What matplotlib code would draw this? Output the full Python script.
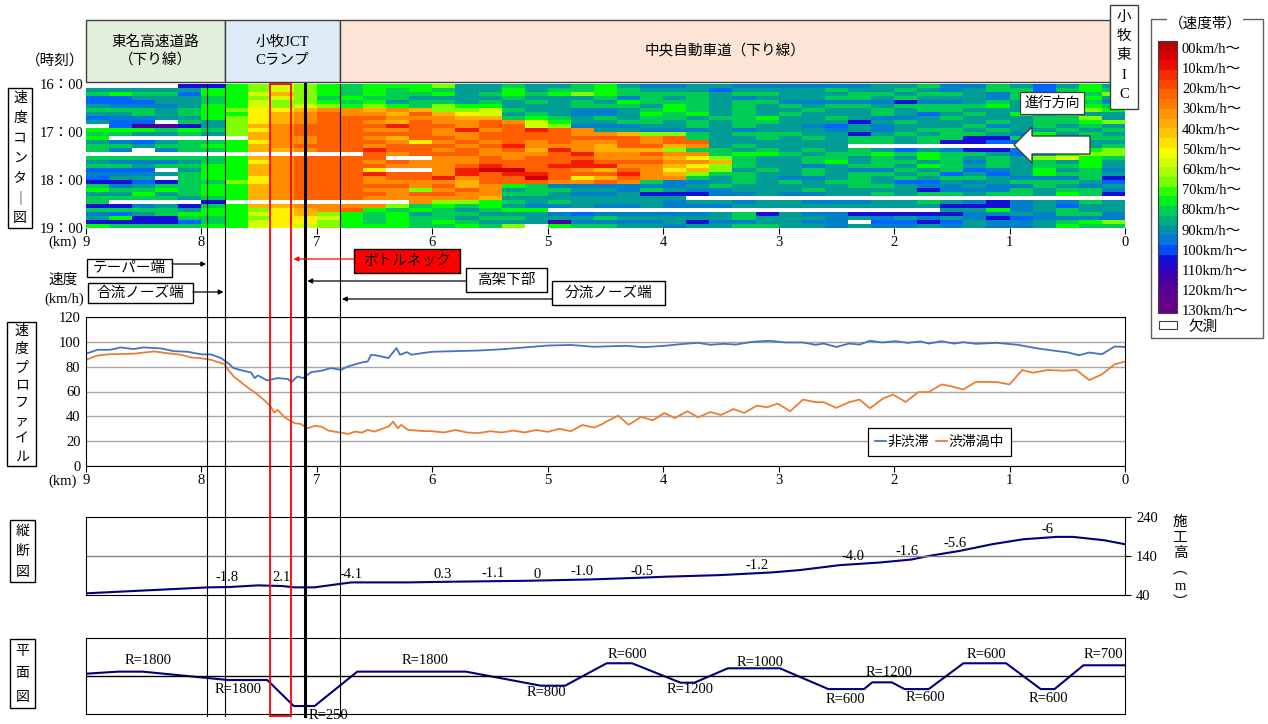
import numpy as np
import matplotlib.pyplot as plt
from matplotlib.colors import LinearSegmentedColormap, Normalize
from matplotlib.patches import Rectangle, Polygon

plt.rcParams['font.family'] = ['Noto Sans CJK JP', 'DejaVu Sans']
SERIF = ['Liberation Serif', 'Noto Sans CJK JP']

# ---------------- data ----------------
km_ticks = [9, 8, 7, 6, 5, 4, 3, 2, 1, 0]
time_ticks = [16, 17, 18, 19]
time_labels = ['16：00', '17：00', '18：00', '19：00']

band_labels = ['00km/h〜', '10km/h〜', '20km/h〜', '30km/h〜', '40km/h〜', '50km/h〜', '60km/h〜',
               '70km/h〜', '80km/h〜', '90km/h〜', '100km/h〜', '110km/h〜', '120km/h〜', '130km/h〜']
cbar_speeds = [0, 10, 20, 30, 40, 50, 57, 65, 72, 80, 88, 95, 101, 106, 112, 120, 130, 140]
cbar_colors = ['#B00000', '#E80000', '#FF3800', '#FF7000', '#FFA000', '#FFD000', '#FFFF00', '#C0FF00',
               '#80FF00', '#00FF00', '#00CC55', '#009C96', '#0080C8', '#0064FF', '#1010DD', '#3A00B0',
               '#5C0090', '#6A0080']

# speed (km/h) for each cell code, '.' = missing
code_speed = {'R': 5, 'r': 15, 'o': 27, 'O': 36, 'y': 44, 'Y': 55, 'l': 63, 'L': 72, 'g': 80,
              'G': 88, 't': 95, 'b': 101, 'B': 106, 'n': 113, 'p': 125, '.': np.nan}

# 5-min rows 16:00-19:00, 0.2 km columns from 9 km to 0 km
contour_rows = [
    "....nn|g|LlLgGgggLtt|GttGgtbbttbb|bbbbttGbbGtBtgt",
    "tttttg|g|LlLgGgGgGtt|gtGGgGtttBtt|ttGttGtbtGGBGgG",
    "GgGGBg|g|lyLgGgGGgtG|gGgLgGGGGtGG|tttGGtGGtbGgtGL",
    "BBtttG|g|LlLGgGGtttt|GtttGbGtGtbt|ttGGtGtttbGbtgt",
    "BBBttG|g|lLLgGgtGGtG|tGtGtgGGGtGG|bbbbbnbbtGttGGb",
    "tbbbtg|g|lLlLgLgGLgg|tttGGGtgGtGt|GtGGtGGGGgtGGgG",
    "GGGtGg|L|YYyOOyOyLLl|GttbbtGgGtGt|tGttGtGGtttGtLg",
    "ttGtGg|g|YyOoOOyoyYl|tGtbbtgGgtGt|GtttGtBtGtgtGtt",
    "Bbbttg|L|YyOoooOOOyy|GgGtGtGGtGGg|ttGtbbtGtttGGLt",
    "tBB.Gt|L|YyOooOyoOOo|OlgttGGtGtGG|tttntGtttGtGGgL",
    ".Bppnt|L|yOoooorooOo|olLbbbttGtGt|tbBtbtttGbtGtGt",
    "gggGgG|L|YOoooOOoOrO|oroOttbbbtbt|ttbtbtGGtGttGtG",
    "GGttGt|L|yOooooooOOo|oooOOyLLGtGG|GttntGtGGtbgtGt",
    "g.....|.|yOOooOyooOo|ooooooOoGttG|tGtGGtGGnnGgtGG",
    "tbBtGG|g|YOOoooOYOoO|oOoOOoOoottt|tttGGtGnnBBtGtt",
    "GGtGGg|g|yOoooOoooOo|rOOOyooyOtGt|ttt........gLtG",
    "Gb.bGG|g|yyOoorooOoO|oyrOyyyLGGtG|tGtGtBtbnnbtGgL",
    "......|.|.....oOoooO|OOorOOoOOGgg|GtGGgGgGGtBtgLL",
    "GGGGGG|g|yOoooo..OOo|OoooOOOyYLGt|tGGtGtgGtGtLlgG",
    "tbbbtG|g|YOoooOoOOOo|oooroooOOyGt|tGgtGGtGbGtGtgt",
    "GGtGGg|g|yOooooOOOor|oorrrOOyYLGt|tbtGGtgGtGtGGgt",
    "BBB.tg|g|yOoooY..OrR|RooOyoOYyLtG|tGtbbGtGBbtgtGb",
    "bbbtGg|g|yOooorooOro|rrooorOyLGGt|tGtGGtGBtBtgGGt",
    "Btt.Gg|g|YOoooOoorOo|oRoYyoOOGtGt|bbtGtGtGGtbbbGn",
    "nnBnGG|L|YOoooOOOOyo|ooOOoOGbbtGt|GtGGtBBtbtGGGtB",
    "GbtGGg|g|yOoooooOoyO|gGbbbbbbtGtt|tttGGtbbtbbGtbt",
    "gGGgGg|g|yOoooOOLOoO|tGGttbGtbbtt|tGttttnbbbGtGGb",
    "ttgtGg|g|yOooooOooOO|GGtbbtnnnbbt|bbttGtGGtGGtgGn",
    "GGGGtG|g|yOoooOOOOOy|tttttttt....|...............",
    "G....n|.|.......OLLg|GtGttttbttbt|tbbbttGtbnbtbGt",
    "nnbtnG|g|yyOOOOLGgGg|tbbtbbtbbbtt|tttttttnnnbtBtt",
    "GGGGtg|g|LYyOogGgGtG|gg..........|.......ttgbtGtt",
    "bBtGgg|g|lYyLgGgtGGt|ttbBbbbbbtGn|tbbnnnnnbbtbGGb",
    "tgnnGG|g|LYYlgGgGGtG|GtttGtttttGt|ttbtbtbtbnBbbbb",
    "nnnnBG|g|lYYLgGgGgGt|ttpbbbbtnbbt|tbb.BBnBtbbtGgL",
    "gGGGGg|g|lYlLgggGGgG|L.gGGttbttGG|ttbtbbtbtbbtgGG",
]

# speed profile
free_km = [9.0, 8.90, 8.79, 8.70, 8.59, 8.50, 8.35, 8.24, 8.12, 8.0,
           7.92, 7.83, 7.77, 7.72, 7.66, 7.57, 7.54, 7.51, 7.43, 7.34,
           7.25, 7.22, 7.17, 7.12, 7.05, 6.96, 6.88, 6.79, 6.73, 6.61,
           6.56, 6.53, 6.47, 6.38, 6.31, 6.28, 6.22, 6.18, 6.09, 6.0,
           5.8, 5.6, 5.4, 5.2, 5.0, 4.8, 4.6, 4.54, 4.32, 4.17,
           3.99, 3.85, 3.70, 3.59, 3.48, 3.37, 3.23, 3.08, 2.94, 2.79,
           2.68, 2.61, 2.50, 2.39, 2.30, 2.21, 2.10, 1.99, 1.88, 1.77,
           1.70, 1.59, 1.48, 1.40, 1.29, 1.11, 0.93, 0.75, 0.60, 0.49,
           0.40, 0.31, 0.20, 0.09, 0.0]
free_v = [90.4, 93.6, 93.6, 95.5, 94.2, 95.5, 94.7, 92.5, 92.0, 89.9,
          89.9, 86.9, 82.9, 78.8, 77.2, 75.3, 70.8, 72.9, 68.9, 70.8,
          70.0, 67.5, 72.1, 70.8, 75.6, 76.7, 78.8, 77.5, 80.2, 83.4,
          84.2, 89.6, 88.8, 86.9, 95.0, 89.6, 91.7, 89.6, 90.9, 92.0,
          92.5, 93.0, 94.0, 95.5, 97.0, 97.5, 96.0, 96.2, 96.8, 95.7,
          96.8, 98.1, 99.2, 97.6, 98.4, 97.8, 100.0, 100.8, 99.5, 99.5,
          97.6, 98.6, 95.9, 98.6, 97.8, 100.8, 99.5, 100.5, 99.2, 100.3,
          98.6, 100.5, 98.6, 99.7, 98.4, 99.2, 97.6, 94.6, 92.7, 91.4,
          89.2, 91.4, 90.0, 96.2, 95.9]
cong_km = [9.0, 8.90, 8.79, 8.59, 8.41, 8.30, 8.18, 8.09, 8.01, 7.92,
           7.80, 7.77, 7.72, 7.63, 7.57, 7.51, 7.46, 7.40, 7.37, 7.34,
           7.28, 7.22, 7.19, 7.14, 7.08, 7.02, 6.96, 6.90, 6.85, 6.79,
           6.73, 6.67, 6.61, 6.56, 6.50, 6.44, 6.38, 6.34, 6.30, 6.27,
           6.21, 6.09, 6.0, 5.9, 5.8, 5.7, 5.6, 5.5, 5.4, 5.3,
           5.2, 5.1, 5.0, 4.9, 4.8, 4.7, 4.6, 4.54, 4.49, 4.39,
           4.30, 4.19, 4.09, 3.99, 3.90, 3.79, 3.70, 3.59, 3.50, 3.39,
           3.30, 3.19, 3.10, 3.01, 2.90, 2.79, 2.68, 2.61, 2.50, 2.39,
           2.30, 2.21, 2.10, 2.01, 1.90, 1.79, 1.70, 1.59, 1.51, 1.40,
           1.29, 1.11, 1.00, 0.89, 0.80, 0.67, 0.53, 0.42, 0.31, 0.20,
           0.09, 0.0]
cong_v = [85.6, 89.0, 90.1, 90.4, 92.3, 90.9, 89.6, 87.4, 86.9, 85.6,
          82.0, 77.5, 72.1, 65.4, 61.3, 57.3, 53.3, 47.9, 43.0, 45.2,
          39.3, 35.8, 34.4, 33.9, 30.4, 32.3, 31.7, 28.5, 27.7, 26.9,
          25.8, 27.7, 26.9, 29.1, 27.7, 29.9, 31.7, 35.8, 30.4, 33.1,
          29.1, 28.2, 28.0, 27.0, 29.0, 27.0, 26.5, 28.0, 27.0, 28.5,
          27.0, 29.0, 27.5, 30.0, 28.0, 33.0, 31.0, 33.2, 35.9, 40.5,
          33.2, 39.5, 36.8, 42.7, 38.6, 44.1, 39.2, 43.5, 41.1, 45.9,
          42.7, 48.6, 47.3, 50.3, 44.1, 53.5, 51.4, 51.4, 46.8, 51.4,
          53.5, 46.5, 54.1, 57.6, 51.6, 59.5, 59.5, 65.7, 64.3, 61.6,
          67.8, 67.6, 65.7, 77.3, 75.1, 77.3, 76.8, 77.3, 69.2, 73.8,
          81.9, 84.1]

# longitudinal section
elev_km = [9.0, 7.94, 7.76, 7.51, 7.30, 7.20, 7.02, 6.81, 6.70, 6.21, 5.85, 5.15, 4.62, 4.20, 3.99,
           3.51, 3.06, 2.82, 2.47, 2.12, 1.85, 1.71, 1.43, 1.15, 0.88, 0.59, 0.45, 0.18, 0.0]
elev_m = [44.3, 59.6, 60.4, 64.7, 63.0, 59.6, 59.6, 68.1, 72.3, 72.3, 74.0, 76.6, 80.0, 84.3, 86.8,
          91.0, 97.9, 103.8, 116.6, 123.4, 131.0, 139.6, 153.2, 170.2, 183.0, 189.0, 189.0, 180.4, 170.2]
grade_labels = ['-1.8', '2.1', '-4.1', '0.3', '-1.1', '0', '-1.0', '-0.5', '-1.2', '-4.0', '-1.6', '-5.6', '-6']
grade_km = [7.78, 7.31, 6.70, 5.91, 5.47, 5.09, 4.70, 4.18, 3.19, 2.36, 1.89, 1.47, 0.67]
grade_m = [83.6, 83.6, 91.3, 93.8, 96.4, 93.8, 99.0, 101.5, 116.9, 140.0, 152.8, 170.8, 206.7]

# plan view
plan_km = [9.0, 8.72, 8.51, 7.77, 7.43, 7.20, 7.02, 6.65, 5.71, 5.06, 4.85, 4.49, 4.27, 3.85, 3.73,
           3.44, 2.99, 2.57, 2.26, 2.19, 2.02, 1.91, 1.70, 1.40, 1.03, 0.73, 0.61, 0.36, 0.0]
plan_v = [0.06, 0.115, 0.115, -0.106, -0.106, -0.79, -0.79, 0.115, 0.115, -0.255, -0.255, 0.335, 0.335,
          -0.176, -0.176, 0.203, 0.203, -0.344, -0.344, -0.167, -0.167, -0.344, -0.344, 0.335, 0.335,
          -0.344, -0.344, 0.282, 0.282]
curve_labels = ['R=1800', 'R=1800', 'R=250', 'R=1800', 'R=800', 'R=600', 'R=1200', 'R=1000',
                'R=600', 'R=1200', 'R=600', 'R=600', 'R=600', 'R=700']
curve_km = [8.46, 7.68, 6.90, 6.06, 5.01, 4.31, 3.77, 3.16, 2.42, 2.04, 1.73, 1.20, 0.66, 0.19]
curve_v = [0.395, -0.368, -1.05, 0.395, -0.447, 0.553, -0.368, 0.368, -0.63, 0.105, -0.553, 0.553, -0.58, 0.553]

# reference lines (km)
ref_km = [7.95, 7.80, 7.10, 6.80]
ref_lw = [0.8, 0.8, 2.2, 0.8]
bneck_km = [7.41, 7.22]

# ---------------- layout helpers ----------------
W, H = 1268, 724
X0, X1 = 86, 1125


def rect(x0, y0, x1, y1):
    return [x0 / W, 1 - y1 / H, (x1 - x0) / W, (y1 - y0) / H]


def kx(km):
    return X0 + (9 - km) * (X1 - X0) / 9


cmap = LinearSegmentedColormap.from_list('speed', list(zip(np.array(cbar_speeds) / 140, cbar_colors)))
cmap.set_bad('white')
norm = Normalize(0, 140)

fig = plt.figure(figsize=(W / 100, H / 100), dpi=100)

# ---------------- speed contour ----------------
grid = np.array([[code_speed[c] for c in row.replace('|', '')] for row in contour_rows], dtype=float)
ax = fig.add_axes(rect(X0, 84, X1, 228))
ax.pcolormesh(np.linspace(9, 0, grid.shape[1] + 1), 16 + np.arange(grid.shape[0] + 1) / 12,
              np.ma.masked_invalid(grid), cmap=cmap, norm=norm)
ax.set_xlim(9, 0)
ax.set_ylim(19, 16)
for s in ax.spines.values():
    s.set_visible(False)
ax.set_xticks(km_ticks)
ax.set_xticklabels([str(k) for k in km_ticks], family=SERIF, fontsize=10.5)
ax.set_yticks(time_ticks)
ax.set_yticklabels(time_labels, family=SERIF, fontsize=10.5)
ax.tick_params(axis='x', length=4, pad=1.5)
ax.tick_params(axis='y', length=0, pad=2)

# ---------------- speed profile ----------------
ax2 = fig.add_axes(rect(X0, 317, X1, 466))
ax2.plot(free_km, free_v, color='#4472C4', lw=1.3, label='非渋滞')
ax2.plot(cong_km, cong_v, color='#ED7D31', lw=1.3, label='渋滞渦中')
ax2.set_xlim(9, 0)
ax2.set_ylim(0, 120)
ax2.set_yticks(range(0, 121, 20))
ax2.set_yticklabels([str(v) for v in range(0, 121, 20)], family=SERIF, fontsize=10.5)
ax2.set_xticks(km_ticks)
ax2.set_xticklabels([str(k) for k in km_ticks], family=SERIF, fontsize=10.5)
ax2.grid(axis='y', color='#A6A6A6', lw=1)
ax2.set_axisbelow(True)
ax2.tick_params(axis='y', length=0, pad=4)
ax2.tick_params(axis='x', length=4, pad=2)
leg = ax2.legend(ncol=2, loc='center', bbox_to_anchor=(0.8215, 0.164), handlelength=0.8,
                 handletextpad=0.1, columnspacing=0.5, fancybox=False, edgecolor='black',
                 fontsize=10, borderpad=0.5, framealpha=1)
leg.get_frame().set_linewidth(0.9)

# ---------------- longitudinal section ----------------
ax3 = fig.add_axes(rect(X0, 517, X1, 595))
ax3.plot(elev_km, elev_m, color='#000080', lw=1.5)
ax3.axhline(140, color='#808080', lw=1)
ax3.set_xlim(9, 0)
ax3.set_ylim(40, 240)
ax3.yaxis.tick_right()
ax3.set_yticks([40, 140, 240])
ax3.set_yticklabels(['40', '140', '240'], family=SERIF, fontsize=10.5)
ax3.set_xticks([])
ax3.tick_params(axis='y', length=4, pad=4)
for lab, k, m in zip(grade_labels, grade_km, grade_m):
    ax3.text(k, m, lab, ha='center', va='center', fontsize=10.5, family=SERIF)

# ---------------- plan view ----------------
ax4 = fig.add_axes(rect(X0, 638, X1, 714))
ax4.plot(plan_km, plan_v, color='#000080', lw=1.5)
ax4.axhline(0, color='black', lw=1)
ax4.set_xlim(9, 0)
ax4.set_ylim(-1, 1)
ax4.set_xticks([])
ax4.set_yticks([])
for lab, k, v in zip(curve_labels, curve_km, curve_v):
    ax4.text(k, v, lab, ha='center', va='center', fontsize=10.5, family=SERIF)

# ---------------- overlay (pixel coordinates) ----------------
ov = fig.add_axes([0, 0, 1, 1], zorder=10)
ov.set_xlim(0, W)
ov.set_ylim(H, 0)
ov.axis('off')
ov.patch.set_visible(False)

# header boxes
headers = [(9.0, 7.80, '東名高速道路\n（下り線）', '#E2EFDA'),
           (7.80, 6.80, '小牧JCT\nCランプ', '#DDEBF7'),
           (6.80, None, '中央自動車道（下り線）', '#FCE4D6')]
for k0, k1, txt, fc in headers:
    x0 = kx(k0)
    x1 = kx(k1) if k1 is not None else 1110
    ov.add_patch(Rectangle((x0, 20), x1 - x0, 62, fc=fc, ec='#404040', lw=1))
    ov.text((x0 + x1) / 2, 51, txt, ha='center', va='center', fontsize=10.5, linespacing=1.35,
            family=SERIF if 'JCT' in txt else None)
ov.add_patch(Rectangle((1110, 5), 28, 104, fc='white', ec='#404040', lw=1))
for i, ch in enumerate(['小', '牧', '東', 'I', 'C']):
    ov.text(1124, 17 + i * 19.5, ch, ha='center', va='center', fontsize=10.5, family=SERIF)

# direction box and arrow
ov.text(1052, 103, '進行方向', ha='center', va='center', fontsize=10,
        bbox=dict(boxstyle='square,pad=0.3', fc='white', ec='#404040', lw=0.9))
ov.add_patch(Polygon([(1014, 145), (1032, 127), (1032, 136), (1090, 136), (1090, 154),
                      (1032, 154), (1032, 163)], closed=True, fc='white', ec='#404040', lw=1))

# axis texts
ov.text(84, 61, '（時刻）', ha='right', va='center', fontsize=10.5)
ov.text(77, 242, '(km)', ha='right', va='center', fontsize=10.5, family=SERIF)
ov.text(77, 481, '(km)', ha='right', va='center', fontsize=10.5, family=SERIF)
ov.text(63, 280, '速度', ha='center', va='center', fontsize=10.5)
ov.text(64, 299, '(km/h)', ha='center', va='center', fontsize=10.5, family=SERIF)

# side labels
side_labels = [((8, 88, 32, 228), ['速', '度', 'コ', 'ン', 'タ', '｜', '図']),
               ((7, 322, 36, 466), ['速', '度', 'プ', 'ロ', 'フ', 'ァ', 'イ', 'ル']),
               ((10, 520, 35, 582), ['縦', '断', '図']),
               ((10, 639, 35, 708), ['平', '面', '図'])]
for (x0, y0, x1, y1), chars in side_labels:
    ov.add_patch(Rectangle((x0, y0), x1 - x0, y1 - y0, fc='white', ec='black', lw=1))
    step = (y1 - y0) / len(chars)
    for i, ch in enumerate(chars):
        ov.text((x0 + x1) / 2, y0 + (i + 0.5) * step, ch, ha='center', va='center', fontsize=10)
for i, ch in enumerate(['施', '工', '高', '︵', 'm', '︶']):
    ov.text(1180, 522 + i * 16, ch, ha='center', va='center', fontsize=10.5, family=SERIF)

# reference lines and bottleneck box
for k, lw in zip(ref_km, ref_lw):
    ov.plot([kx(k), kx(k)], [84, 716], color='black', lw=lw)
ov.add_patch(Rectangle((kx(bneck_km[0]), 84), kx(bneck_km[1]) - kx(bneck_km[0]), 632,
                       fill=False, ec='red', lw=1.3))

# callouts
callouts = [('テーパー端', (87, 259, 172, 277), ref_km[0], 264, 'white', 'black'),
            ('合流ノーズ端', (88, 283, 193, 303), ref_km[1], 292, 'white', 'black'),
            ('ボトルネック', (354, 249, 460, 273), bneck_km[1], 259, 'red', 'red'),
            ('高架下部', (466, 268, 547, 292), ref_km[2], 281, 'white', 'black'),
            ('分流ノーズ端', (552, 281, 665, 305), ref_km[3], 299, 'white', 'black')]
for txt, (x0, y0, x1, y1), k, ya, fc, ac in callouts:
    ov.add_patch(Rectangle((x0, y0), x1 - x0, y1 - y0, fc=fc, ec='black', lw=1))
    ov.text((x0 + x1) / 2, (y0 + y1) / 2, txt, ha='center', va='center', fontsize=10.5)
    xs = x1 if x1 < kx(k) else x0
    xe = kx(k) + (2 if xs > kx(k) else -1)
    ov.annotate('', xy=(xe, ya), xytext=(xs, ya),
                arrowprops=dict(arrowstyle='-|>', color=ac, lw=0.9, mutation_scale=7,
                                shrinkA=0, shrinkB=0))

# speed band legend
ov.add_patch(Rectangle((1151, 19), 112, 319, fill=False, ec='#606060', lw=1))
ov.text(1205, 24, '（速度帯）', ha='center', va='center', fontsize=10.5,
        bbox=dict(boxstyle='square,pad=0.1', fc='white', ec='none'))
cb_top, cb_bot = 40.7, 313.3
nb = 28
for j in range(nb):
    y = cb_top + j * (cb_bot - cb_top) / nb
    ov.add_patch(Rectangle((1158, y), 19, (cb_bot - cb_top) / nb + 0.3,
                           fc=cmap(norm((j + 0.5) * 140 / nb)), ec='none'))
ov.add_patch(Rectangle((1158, cb_top), 19, cb_bot - cb_top, fill=False, ec='#404040', lw=0.8))
for i, lab in enumerate(band_labels):
    ov.text(1182, 49.3 + i * 20.2, lab, ha='left', va='center', fontsize=10.5, family=SERIF)
ov.add_patch(Rectangle((1159, 321), 18, 8, fc='white', ec='#404040', lw=0.8))
ov.text(1188, 327, '欠測', ha='left', va='center', fontsize=10.5)

fig.savefig('out.png', dpi=100)
